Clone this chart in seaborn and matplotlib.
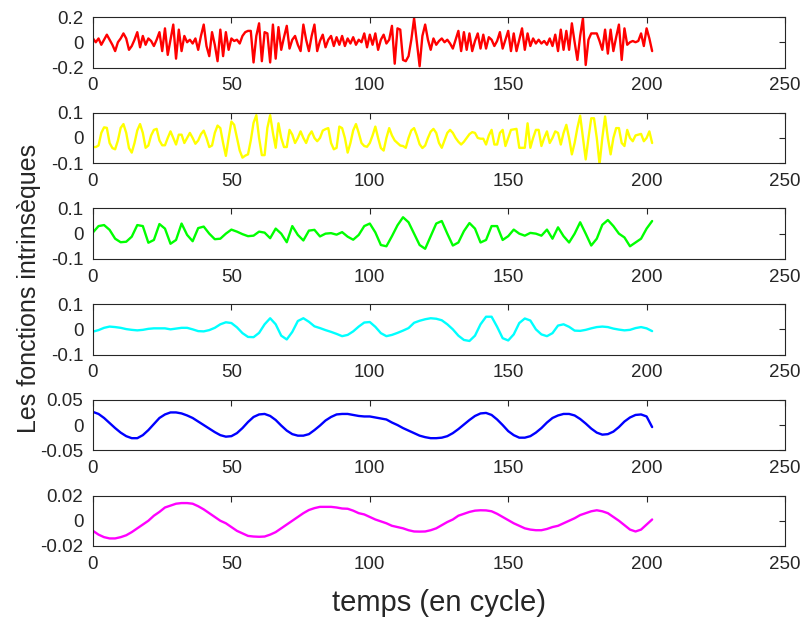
import matplotlib
matplotlib.use("Agg")
import matplotlib.pyplot as plt
import seaborn as sns
import pandas as pd

# x axis: cycles (every cycle for the noisy modes, every 2nd for the smooth ones)
x_full = list(range(0, 203))
x_half = list(range(0, 203, 2))

imf1 = [0.03, 0.0, 0.03, -0.02, 0.02, 0.06, 0.02, -0.02, -0.07, 0.0,
        0.03, 0.07, 0.03, -0.06, -0.03, 0.02, 0.08, -0.04, 0.05, -0.02,
        0.03, 0.01, -0.03, 0.02, 0.08, -0.07, 0.11, -0.10, 0.02, 0.14,
        -0.13, 0.10, -0.07, 0.05, 0.0, 0.02, -0.01, 0.03, -0.06, 0.05,
        0.14, -0.03, -0.11, 0.08, -0.02, -0.15, 0.10, -0.11, 0.08, -0.06,
        0.03, 0.01, 0.02, -0.01, 0.05, 0.08, 0.09, 0.09, -0.16, 0.05,
        0.15, -0.15, 0.08, 0.07, -0.16, 0.14, -0.13, 0.12, -0.06, 0.04,
        0.13, -0.05, 0.02, 0.05, -0.02, -0.07, 0.14, 0.02, -0.07, 0.05,
        0.14, -0.07, 0.01, 0.06, -0.04, 0.02, 0.05, -0.03, 0.04, -0.02,
        0.05, -0.03, 0.03, -0.01, 0.04, -0.02, 0.02, 0.0, 0.07, -0.04,
        0.06, -0.02, 0.07, -0.06, 0.02, 0.06, -0.01, 0.02, 0.13, -0.17,
        0.11, 0.10, -0.14, -0.15, -0.11, 0.02, 0.19, 0.0, -0.19, 0.05,
        0.14, 0.02, -0.06, 0.03, -0.02, 0.01, 0.03, 0.0, 0.02, -0.01,
        -0.05, 0.02, 0.09, -0.07, 0.08, -0.06, 0.07, -0.07, 0.01, 0.07,
        -0.05, 0.06, -0.05, 0.04, 0.02, -0.03, 0.01, 0.08, -0.05, 0.02,
        0.09, -0.07, 0.07, -0.07, 0.02, 0.11, -0.06, 0.07, -0.03, 0.03,
        -0.01, 0.02, -0.01, 0.01, -0.02, 0.03, -0.03, 0.06, -0.07, 0.10,
        -0.06, 0.09, -0.06, 0.15, 0.0, -0.14, 0.05, 0.19, -0.18, 0.02,
        0.07, 0.07, 0.07, 0.01, -0.06, 0.10, -0.09, 0.10, -0.07, 0.04,
        0.14, -0.14, 0.11, -0.02, 0.0, 0.01, 0.0, 0.01, 0.07, -0.03,
        0.11, 0.03, -0.07]

imf2 = [-0.036, -0.036, -0.03, 0.02, 0.042, 0.04, -0.02, -0.04, -0.045, -0.01,
        0.04, 0.055, 0.02, -0.04, -0.058, -0.02, 0.03, 0.055, 0.02, -0.039,
        -0.03, 0.01, 0.032, 0.036, -0.01, -0.029, -0.029, 0.0, 0.026, 0.0,
        -0.026, 0.013, 0.013, -0.02, 0.0, 0.02, 0.0, -0.023, -0.01, 0.015,
        0.029, 0.0, -0.036, -0.03, 0.02, 0.049, 0.039, -0.02, -0.071, 0.0,
        0.065, 0.052, 0.0, -0.05, -0.078, -0.07, -0.065, -0.01, 0.06, 0.09,
        0.0, -0.068, -0.068, 0.04, 0.09, 0.02, -0.039, 0.058, 0.0, -0.036,
        -0.036, 0.032, 0.013, -0.02, 0.0, 0.026, 0.0, -0.02, 0.01, 0.026,
        0.0, -0.013, 0.0, 0.029, 0.035, 0.039, -0.02, -0.045, -0.039, 0.045,
        0.039, 0.0, -0.058, -0.02, 0.03, 0.055, 0.02, -0.02, -0.032, -0.035,
        -0.02, 0.01, 0.045, 0.0, -0.04, -0.05, 0.0, 0.039, 0.01, -0.01,
        -0.02, -0.03, -0.032, -0.039, 0.0, 0.03, 0.039, 0.01, -0.025, -0.04,
        -0.03, 0.0, 0.025, 0.036, 0.02, -0.02, -0.039, -0.01, 0.02, 0.032,
        0.02, 0.0, -0.015, -0.026, -0.015, 0.0, 0.015, 0.023, 0.02, 0.0,
        -0.003, -0.003, -0.026, 0.01, 0.032, -0.026, -0.026, 0.02, 0.032, -0.032,
        0.0, 0.032, 0.034, 0.036, -0.039, -0.039, -0.039, 0.058, -0.039, 0.0,
        0.032, 0.032, -0.032, 0.0, 0.026, -0.02, 0.0, 0.026, 0.02, -0.026,
        0.02, 0.052, 0.0, -0.065, -0.02, 0.04, 0.088, 0.0, -0.085, 0.0,
        0.078, 0.078, 0.0, -0.104, 0.0, 0.085, 0.0, -0.065, 0.0, 0.039,
        0.039, -0.02, -0.032, 0.032, 0.0, -0.013, 0.01, 0.013, 0.016, -0.013,
        0.0, 0.026, -0.02]

imf3 = [0.005, 0.03, 0.034, 0.015, -0.02, -0.034, -0.032, -0.012, 0.034, 0.03,
        -0.036, -0.025, 0.038, 0.02, -0.04, -0.025, 0.04, -0.005, -0.03, 0.022,
        0.028, 0.0, -0.022, -0.02, 0.0, 0.016, 0.008, -0.002, -0.01, -0.008,
        0.008, 0.004, -0.018, 0.02, 0.0, -0.034, 0.03, -0.005, -0.027, 0.012,
        0.015, -0.011, 0.0, 0.002, -0.004, 0.006, -0.012, -0.024, -0.005, 0.03,
        0.04, 0.005, -0.045, -0.05, -0.01, 0.033, 0.065, 0.045, 0.0, -0.045,
        -0.06, -0.01, 0.04, 0.05, 0.0, -0.047, -0.035, 0.01, 0.042, 0.02,
        -0.035, -0.025, 0.03, 0.03, -0.025, -0.01, 0.016, 0.0, -0.008, 0.003,
        0.0, -0.008, 0.016, -0.02, 0.025, -0.01, -0.035, 0.0, 0.045, 0.0,
        -0.047, -0.02, 0.035, 0.054, 0.03, 0.0, -0.015, -0.05, -0.035, -0.02,
        0.02, 0.05]

imf4 = [-0.009, -0.003, 0.006, 0.011, 0.009, 0.006, 0.001, -0.002, -0.004, -0.002,
        0.002, 0.004, 0.004, 0.004, 0.0, 0.003, 0.006, 0.006, 0.0, -0.007,
        -0.008, -0.003, 0.006, 0.02, 0.028, 0.025, 0.008, -0.015, -0.03, -0.031,
        -0.014, 0.02, 0.044, 0.02, -0.025, -0.04, -0.01, 0.033, 0.044, 0.03,
        0.012, 0.005, -0.003, -0.01, -0.018, -0.027, -0.022, -0.008, 0.011, 0.027,
        0.029, 0.01, -0.015, -0.027, -0.022, -0.014, -0.005, 0.005, 0.026, 0.034,
        0.04, 0.044, 0.042, 0.036, 0.02, 0.0, -0.025, -0.042, -0.046, -0.025,
        0.02, 0.05, 0.05, 0.01, -0.035, -0.044, -0.02, 0.025, 0.043, 0.035,
        0.0, -0.02, -0.027, -0.015, 0.015, 0.02, 0.01, -0.005, -0.006, -0.002,
        0.004, 0.009, 0.011, 0.009, 0.003, -0.001, -0.004, -0.002, 0.005, 0.009,
        0.004, -0.007]

imf5 = [0.026, 0.022, 0.014, 0.004, -0.006, -0.015, -0.022, -0.026, -0.026, -0.02,
        -0.01, 0.002, 0.014, 0.021, 0.025, 0.025, 0.023, 0.019, 0.014, 0.007,
        0.0, -0.007, -0.014, -0.02, -0.023, -0.022, -0.016, -0.006, 0.006, 0.016,
        0.021, 0.022, 0.018, 0.01, -0.001, -0.011, -0.018, -0.021, -0.021, -0.018,
        -0.01, -0.001, 0.009, 0.016, 0.021, 0.022, 0.022, 0.02, 0.018, 0.017,
        0.017, 0.015, 0.013, 0.011, 0.005, 0.0, -0.006, -0.011, -0.016, -0.021,
        -0.024, -0.026, -0.026, -0.025, -0.022, -0.016, -0.008, 0.001, 0.01, 0.018,
        0.023, 0.024, 0.02, 0.011, 0.0, -0.012, -0.02, -0.025, -0.025, -0.022,
        -0.015, -0.006, 0.005, 0.014, 0.019, 0.022, 0.022, 0.019, 0.012, 0.003,
        -0.007, -0.015, -0.019, -0.018, -0.013, -0.004, 0.007, 0.015, 0.02, 0.021,
        0.017, -0.004]

imf6 = [-0.008, -0.011, -0.013, -0.014, -0.014, -0.013, -0.0115, -0.009, -0.006, -0.003,
        0.0, 0.004, 0.007, 0.0105, 0.012, 0.0135, 0.014, 0.014, 0.0135, 0.0115,
        0.009, 0.006, 0.003, 0.0, -0.002, -0.005, -0.008, -0.01, -0.012, -0.0125,
        -0.0127, -0.0125, -0.011, -0.009, -0.006, -0.003, 0.0, 0.003, 0.006, 0.0085,
        0.01, 0.011, 0.011, 0.011, 0.0105, 0.0097, 0.0095, 0.008, 0.006, 0.005,
        0.003, 0.001, -0.0005, -0.002, -0.004, -0.005, -0.006, -0.0075, -0.0085, -0.0086,
        -0.0085, -0.0075, -0.006, -0.0035, -0.001, 0.001, 0.004, 0.0055, 0.007, 0.008,
        0.0083, 0.0082, 0.0075, 0.0055, 0.003, 0.0005, -0.002, -0.004, -0.006, -0.007,
        -0.0075, -0.0075, -0.0065, -0.005, -0.004, -0.002, 0.0, 0.002, 0.0045, 0.006,
        0.0075, 0.0083, 0.0075, 0.006, 0.003, 0.0, -0.0035, -0.007, -0.0085, -0.007,
        -0.003, 0.001]

series = [(x_full, imf1), (x_full, imf2), (x_half, imf3),
          (x_half, imf4), (x_half, imf5), (x_half, imf6)]
colors = ["#ff0000", "#ffff00", "#00ff00", "#00ffff", "#0000ff", "#ff00ff"]
ylims = [0.2, 0.1, 0.1, 0.1, 0.05, 0.02]
ylabels = [["-0.2", "0", "0.2"], ["-0.1", "0", "0.1"], ["-0.1", "0", "0.1"],
           ["-0.1", "0", "0.1"], ["-0.05", "0", "0.05"], ["-0.02", "0", "0.02"]]

sns.set_style("white")
plt.rcParams["font.family"] = ["Liberation Sans", "DejaVu Sans"]

fig = plt.figure(figsize=(8.07, 6.2), dpi=100)
W, H = 807.0, 620.0
ink = "#262626"

for i in range(6):
    top = 17 + 95.7 * i
    ax = fig.add_axes([93 / W, 1 - (top + 50.5) / H, 692 / W, 50.5 / H])
    xs, ys = series[i]
    df = pd.DataFrame({"x": xs, "y": ys})
    sns.lineplot(data=df, x="x", y="y", ax=ax, color=colors[i], linewidth=1.7)
    lim = ylims[i]
    ax.set_xlim(0, 250)
    ax.set_ylim(-lim, lim)
    ax.set_xticks([0, 50, 100, 150, 200, 250])
    ax.set_xticklabels(["0", "50", "100", "150", "200", "250"])
    ax.set_yticks([-lim, 0, lim])
    ax.set_yticklabels(ylabels[i])
    ax.set_xlabel("")
    ax.set_ylabel("")
    ax.tick_params(direction="in", length=4, width=0.8, colors=ink,
                   labelsize=13.5, top=True, right=True, pad=7)
    ax.tick_params(axis="x", pad=7)
    for sp in ax.spines.values():
        sp.set_color(ink)
        sp.set_linewidth(0.8)

fig.text(0.5 * (93 + 785) / W, 1 - 603 / H, "temps (en cycle)",
         ha="center", va="center", fontsize=21, color=ink)
fig.text(29 / W, 1 - 288 / H, "Les fonctions intrinsèques",
         ha="center", va="center", rotation=90, fontsize=18, color=ink)

fig.savefig("out.png", dpi=100)
